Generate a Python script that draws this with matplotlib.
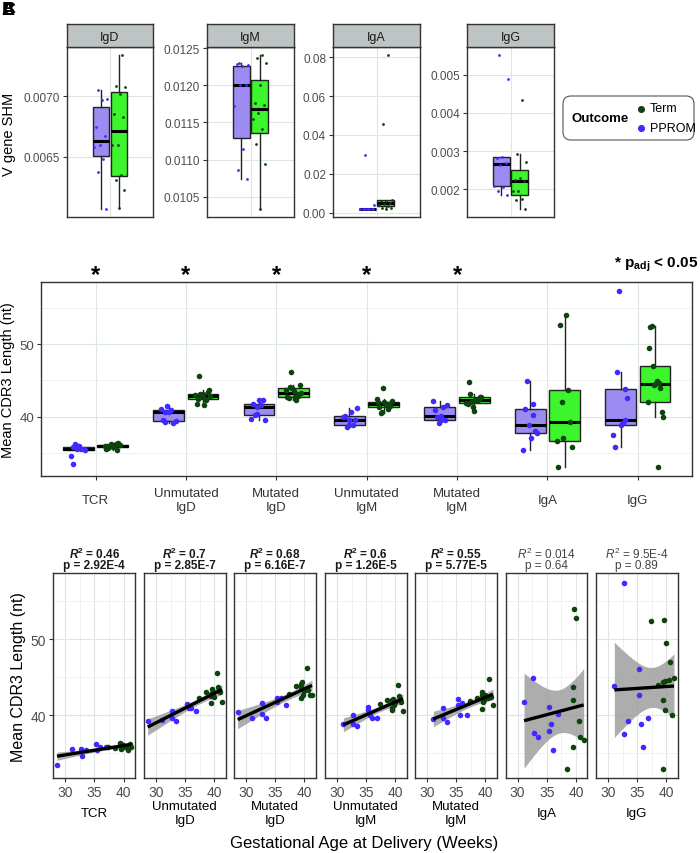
import numpy as np
import matplotlib
matplotlib.use("Agg")
import matplotlib.pyplot as plt
from matplotlib.patches import FancyBboxPatch
from matplotlib.transforms import blended_transform_factory
from matplotlib.ticker import FixedLocator, FormatStrFormatter

nan = np.nan

# ---------------- data ----------------
outcomes = ["Term", "PPROM"]

# Panel A: V gene SHM by isotype
shm_isotypes = ["IgD", "IgM", "IgA", "IgG"]
shm_pprom_igd = [0.00705, 0.00698, 0.006965, 0.00675, 0.00667, 0.00660, 0.00658, 0.00648, 0.00638, 0.00607]
shm_term_igd = [0.00734, 0.00708, 0.007077, 0.00702, 0.00685, 0.00683, 0.00660, 0.00660, 0.006355, 0.00631, 0.00623, 0.00608]
shm_pprom_igm = [0.01230, 0.012267, 0.012254, 0.01229, 0.012009, 0.01200, 0.011718, 0.01114, 0.010853, 0.010737]
shm_term_igm = [0.01241, 0.012366, 0.012299, 0.011999, 0.011754, 0.011732, 0.01162, 0.011544, 0.01141, 0.011215, 0.010942, 0.010331]
shm_pprom_iga = [0.0294, 0.0039, 0.0020, 0.0020, 0.0019, 0.0019, 0.0019, 0.0018, 0.0018, 0.0017]
shm_term_iga = [0.0813, 0.0455, 0.0066, 0.0062, 0.0058, 0.0050, 0.0044, 0.0040, 0.0035, 0.0026, 0.0021, 0.0018]
shm_pprom_igg = [0.005526, 0.004887, 0.002853, 0.00282, 0.002695, 0.00264, 0.002079, 0.00207, 0.001947, 0.001853]
shm_term_igg = [0.004326, 0.002913, 0.00272, 0.002282, 0.002229, 0.00221, 0.00195, 0.001947, 0.001747, 0.001729, 0.001474]
shm_yticks = [[0.0065, 0.0070], [0.0105, 0.0110, 0.0115, 0.0120, 0.0125],
              [0.00, 0.02, 0.04, 0.06, 0.08], [0.002, 0.003, 0.004, 0.005]]
shm_fmt = ["%.4f", "%.4f", "%.2f", "%.3f"]

# Panels B/C: mean CDR3 length
cdr3_categories = ["TCR", "Unmutated\nIgD", "Mutated\nIgD", "Unmutated\nIgM", "Mutated\nIgM", "IgA", "IgG"]
significant = [True, True, True, True, True, False, False]
pprom_age = [28.6, 31.1, 32.7, 32.8, 33.5, 35.3, 35.4, 35.7, 36.0, 36.9]
term_age = [37.4, 38.5, 39.4, 39.5, 39.5, 39.6, 39.7, 39.8, 40.0, 40.5, 40.7, 41.0, 41.3]

cdr3_pprom_tcr = [33.5, 35.55, 35.6, 34.6, 35.5, 36.2, 35.4, nan, 35.9, 35.8]
cdr3_pprom_uigd = [39.25, 39.4, 40.6, 39.6, 39.2, 41.5, nan, 41.0, 40.9, 40.6]
cdr3_pprom_migd = [40.4, 39.7, 41.6, 40.2, 39.6, 42.3, 41.8, nan, 42.3, 41.4]
cdr3_pprom_uigm = [nan, 38.85, 40.0, 38.9, 38.6, 41.15, 40.7, 40.1, 39.6, 39.6]
cdr3_pprom_migm = [nan, 39.5, 40.9, 39.6, 39.1, 42.2, 41.4, 40.0, 41.6, 40.1]
cdr3_pprom_iga = [nan, 41.7, 44.9, 37.7, 37.1, 41.1, 38.0, 38.9, 35.4, 40.2]
cdr3_pprom_igg = [nan, 43.8, 57.4, 37.5, 39.2, 46.1, 42.6, 38.9, 35.8, 39.6]

cdr3_term_tcr = [35.9, 35.7, 36.4, 36.0, 35.6, 36.3, 35.9, 36.1, 35.8, 36.0, 35.4, 36.2, 35.9]
cdr3_term_uigd = [42.25, 43.1, 42.8, 41.6, 42.5, 43.4, 42.9, 43.0, 42.4, 45.6, 43.7, 43.1, 41.7]
cdr3_term_migd = [42.8, 43.9, 43.7, 42.3, 44.1, 44.4, 43.5, 42.7, 43.2, 46.2, 43.3, 42.7, 42.6]
cdr3_term_uigm = [41.5, 42.0, 42.0, 41.0, 40.7, 42.1, 41.6, 41.4, 41.8, 44.0, 42.5, 41.7, 40.5]
cdr3_term_migm = [41.9, 42.25, 43.1, 42.7, 40.8, 41.7, 42.3, 42.0, 42.7, 42.3, 44.8, 42.4, 41.3]
cdr3_term_iga = [nan, 33.0, 43.7, 42.0, 35.8, 54.0, nan, nan, 52.7, 39.3, 37.1, nan, 36.7]
cdr3_term_igg = [52.4, 44.0, 44.4, 42.0, 33.0, 52.5, 40.7, 44.5, 49.5, 44.6, 47.0, 40.0, 44.9]

r2_labels = ["0.46", "0.7", "0.68", "0.6", "0.55", "0.014", "9.5E-4"]
p_labels = ["2.92E-4", "2.85E-7", "6.16E-7", "1.26E-5", "5.77E-5", "0.64", "0.89"]

# ---------------- style ----------------
plt.rcParams['font.family'] = ['Liberation Sans', 'DejaVu Sans']
plt.rcParams['mathtext.fontset'] = 'custom'
plt.rcParams['mathtext.rm'] = 'Liberation Sans'
plt.rcParams['mathtext.it'] = 'Liberation Sans:italic'
plt.rcParams['mathtext.bf'] = 'Liberation Sans:bold'
try:
    plt.rcParams['mathtext.bfit'] = 'Liberation Sans:italic:bold'
except KeyError:
    pass

PPROM_FILL = "#9C8CF2"
TERM_FILL = "#3CF52C"
PPROM_PT = "#3F2BFF"
TERM_PT = "#0E430E"
GRID = "#DDE5E5"
GRID_MINOR = "#EBF0F0"
BORDER = "#333333"
TICKTXT = "#4D4D4D"
EDGE = "#222222"

W, H = 700, 854
fig = plt.figure(figsize=(7, 8.54), dpi=100)


def rect(x0, y0, x1, y1):
    return [x0 / W, 1 - y1 / H, (x1 - x0) / W, (y1 - y0) / H]


def style_axes(ax, labelsize):
    for s in ax.spines.values():
        s.set_color(BORDER)
        s.set_linewidth(1.0)
    ax.tick_params(which='major', color=BORDER, labelcolor=TICKTXT, length=3,
                   width=0.8, labelsize=labelsize, pad=2)
    ax.tick_params(which='minor', length=0)
    ax.set_facecolor('white')
    ax.set_axisbelow(True)
    ax.grid(True, which='major', color=GRID, linewidth=0.8)
    ax.grid(True, which='minor', color=GRID_MINOR, linewidth=0.6)


def jitter(n, width, phase=0.31):
    k = np.arange(n)
    return width * (((k * 0.618034 + phase) % 1.0) - 0.5) * 2


def clean(v):
    v = np.asarray(v, float)
    return v[~np.isnan(v)]


def draw_box(ax, data, pos, width, fill):
    d = clean(data)
    ax.boxplot([d], positions=[pos], widths=width, patch_artist=True,
               showfliers=False, showcaps=False, whis=1.5, manage_ticks=False,
               boxprops=dict(facecolor=fill, edgecolor=EDGE, linewidth=1.0),
               whiskerprops=dict(color=EDGE, linewidth=1.0),
               medianprops=dict(color='black', linewidth=2.2, solid_capstyle='butt'),
               zorder=2)


def expand(vals, frac=0.05):
    lo, hi = np.nanmin(vals), np.nanmax(vals)
    r = hi - lo
    return lo - frac * r, hi + frac * r


# ---------------- Panel A ----------------
shm_pprom = [shm_pprom_igd, shm_pprom_igm, shm_pprom_iga, shm_pprom_igg]
shm_term = [shm_term_igd, shm_term_igm, shm_term_iga, shm_term_igg]
a_x = [(67, 153), (207, 294), (333, 420), (467, 554)]
for i, iso in enumerate(shm_isotypes):
    x0, x1 = a_x[i]
    ax = fig.add_axes(rect(x0, 48, x1, 218))
    style_axes(ax, 8.5)
    draw_box(ax, shm_pprom[i], -0.125, 0.235, PPROM_FILL)
    draw_box(ax, shm_term[i], 0.125, 0.235, TERM_FILL)
    pp = clean(shm_pprom[i])
    tt = clean(shm_term[i])
    ax.scatter(-0.125 + jitter(len(pp), 0.1), pp, s=4, color=PPROM_PT, zorder=3, linewidths=0)
    ax.scatter(0.125 + jitter(len(tt), 0.1, 0.7), tt, s=4, color=TERM_PT, zorder=3, linewidths=0)
    ax.set_xlim(-0.6, 0.6)
    ax.set_ylim(*expand(np.concatenate([pp, tt])))
    ax.xaxis.set_major_locator(FixedLocator([0]))
    ax.tick_params(axis='x', length=0, labelbottom=False)
    yt = shm_yticks[i]
    ax.yaxis.set_major_locator(FixedLocator(yt))
    step = yt[1] - yt[0]
    ax.yaxis.set_minor_locator(FixedLocator(np.arange(yt[0] - 1.5 * step, yt[-1] + 2 * step, step) + step / 2))
    ax.yaxis.set_major_formatter(FormatStrFormatter(shm_fmt[i]))
    # strip
    sa = fig.add_axes(rect(x0, 25, x1, 48))
    sa.set_facecolor("#BEC3C3")
    sa.set_xticks([]); sa.set_yticks([])
    for s in sa.spines.values():
        s.set_color(BORDER); s.set_linewidth(1.0)
    sa.text(0.5, 0.45, iso, ha='center', va='center', fontsize=9, color='#1A1A1A', transform=sa.transAxes)

fig.text(9 / W, 1 - 134 / H, "V gene SHM", rotation=90, ha='center', va='center', fontsize=10.5)

# legend
leg = FancyBboxPatch((563 / W, 1 - 141 / H), 131 / W, 44 / H,
                     boxstyle="round,pad=0,rounding_size=%f" % (8 / W),
                     mutation_aspect=W / H,
                     transform=fig.transFigure, facecolor='white', edgecolor='#555555',
                     linewidth=0.8, zorder=-1)
fig.patches.append(leg)
fig.text(572 / W, 1 - 119 / H, "Outcome", fontweight='bold', fontsize=9.5, ha='left', va='center')
leg_ax = fig.add_axes(rect(635, 100, 694, 138))
leg_ax.set_zorder(5)
leg_ax.set_xlim(0, 59); leg_ax.set_ylim(138, 100); leg_ax.axis('off')
for lab, col, yy in [(outcomes[0], TERM_PT, 109.5), (outcomes[1], PPROM_PT, 128.5)]:
    leg_ax.scatter([6], [yy], s=26, color=col, linewidths=0)
    leg_ax.text(15, yy, lab, ha='left', va='center', fontsize=9)

# ---------------- Panel B ----------------
cdr3_pprom = [cdr3_pprom_tcr, cdr3_pprom_uigd, cdr3_pprom_migd, cdr3_pprom_uigm, cdr3_pprom_migm, cdr3_pprom_iga, cdr3_pprom_igg]
cdr3_term = [cdr3_term_tcr, cdr3_term_uigd, cdr3_term_migd, cdr3_term_uigm, cdr3_term_migm, cdr3_term_iga, cdr3_term_igg]
all_cdr3 = np.concatenate([clean(v) for v in cdr3_pprom + cdr3_term])
ylims = expand(all_cdr3)

axb = fig.add_axes(rect(41.3, 282.7, 692, 477.3))
style_axes(axb, 9.5)
for i in range(len(cdr3_categories)):
    pos = i + 1
    draw_box(axb, cdr3_pprom[i], pos - 0.19, 0.34, PPROM_FILL)
    draw_box(axb, cdr3_term[i], pos + 0.19, 0.34, TERM_FILL)
    pp = clean(cdr3_pprom[i]); tt = clean(cdr3_term[i])
    axb.scatter(pos - 0.19 + jitter(len(pp), 0.09, 0.2 + 0.1 * i), pp, s=16, color=PPROM_PT, zorder=3, linewidths=0)
    axb.scatter(pos + 0.19 + jitter(len(tt), 0.09, 0.6 + 0.1 * i), tt, s=16, color=TERM_PT, zorder=3, linewidths=0)
axb.set_xlim(0.4, len(cdr3_categories) + 0.6)
axb.set_ylim(*ylims)
axb.set_xticks(range(1, len(cdr3_categories) + 1))
axb.set_xticklabels(cdr3_categories, fontsize=9.5, color='#333333', linespacing=1.15, va='center')
axb.tick_params(axis='x', pad=14)
axb.yaxis.set_major_locator(FixedLocator([40, 50]))
axb.yaxis.set_minor_locator(FixedLocator([35, 45, 55]))
axb.set_ylabel("Mean CDR3 Length (nt)", fontsize=10.5)
axb.yaxis.set_label_coords((15 - 41.3) / 650.7, 0.5)
tr = blended_transform_factory(axb.transData, axb.transAxes)
for i, sig in enumerate(significant):
    if sig:
        axb.text(i + 1, 1.035, "*", transform=tr, ha='center', va='center', fontsize=17, fontweight='bold')
fig.text(698 / W, 1 - 265 / H, r"* $\mathbf{p_{adj}}$ < 0.05", ha='right', va='center', fontsize=11, fontweight='bold')

# ---------------- Panel C ----------------
c_left = [53.3, 144, 234, 325, 415, 505.7, 596]
all_age = np.array(pprom_age + term_age)
xlims = expand(all_age)


def t975(df):
    z = 1.959964
    return z + (z ** 3 + z) / (4 * df) + (5 * z ** 5 + 16 * z ** 3 + 3 * z) / (96 * df ** 2) \
        + (3 * z ** 7 + 19 * z ** 5 + 17 * z ** 3 - 15 * z) / (384 * df ** 3)


for i, cat in enumerate(cdr3_categories):
    ax = fig.add_axes(rect(c_left[i], 574.3, c_left[i] + 81.7, 779))
    style_axes(ax, 10)
    pa = np.array(pprom_age); pv = np.array(cdr3_pprom[i], float)
    ta = np.array(term_age); tv = np.array(cdr3_term[i], float)
    x = np.concatenate([pa, ta]); y = np.concatenate([pv, tv])
    m = ~np.isnan(y)
    x, y = x[m], y[m]
    n = len(x)
    b1, b0 = np.polyfit(x, y, 1)
    xs = np.linspace(x.min(), x.max(), 100)
    yhat = b0 + b1 * xs
    resid = y - (b0 + b1 * x)
    s = np.sqrt(np.sum(resid ** 2) / (n - 2))
    sxx = np.sum((x - x.mean()) ** 2)
    se = s * np.sqrt(1 / n + (xs - x.mean()) ** 2 / sxx)
    ci = t975(n - 2) * se
    ax.fill_between(xs, yhat - ci, yhat + ci, color='#999999', alpha=0.8, linewidth=0, zorder=2)
    mp = ~np.isnan(pv); mt = ~np.isnan(tv)
    ax.scatter(pa[mp], pv[mp], s=16, color=PPROM_PT, zorder=3, linewidths=0)
    ax.scatter(ta[mt], tv[mt], s=16, color=TERM_PT, zorder=3, linewidths=0)
    ax.plot(xs, yhat, color='black', linewidth=2.4, zorder=4, solid_capstyle='butt')
    ax.set_xlim(*xlims)
    ax.set_ylim(*ylims)
    ax.xaxis.set_major_locator(FixedLocator([30, 35, 40]))
    ax.xaxis.set_minor_locator(FixedLocator([27.5, 32.5, 37.5, 42.5]))
    ax.yaxis.set_major_locator(FixedLocator([40, 50]))
    ax.yaxis.set_minor_locator(FixedLocator([35, 45, 55]))
    if i > 0:
        ax.tick_params(axis='y', labelleft=False, length=0)
    else:
        ax.set_ylabel("Mean CDR3 Length (nt)", fontsize=11.5)
        ax.yaxis.set_label_coords((26 - 53.3) / 81.7, 0.5)
    ax.set_xlabel(cat, fontsize=9.5, linespacing=1.15)
    ax.xaxis.label.set_va('center')
    ax.xaxis.set_label_coords(0.5, -(814 - 779) / 204.7)
    bold = significant[i]
    cx = (c_left[i] + 40.85) / W
    if bold:
        l1 = r"$\mathbfit{R}^{\mathbf{2}}$ = " + r2_labels[i]
    else:
        l1 = r"$\mathit{R}^{2}$ = " + r2_labels[i]
    fig.text(cx, 1 - 554 / H, l1, ha='center', va='center', fontsize=8.5,
             fontweight='bold' if bold else 'normal', color='#1A1A1A' if bold else '#444444')
    fig.text(cx, 1 - 566 / H, "p = " + p_labels[i], ha='center', va='center', fontsize=8.5,
             fontweight='bold' if bold else 'normal', color='#1A1A1A' if bold else '#444444')

fig.text(364 / W, 1 - 844 / H, "Gestational Age at Delivery (Weeks)", ha='center', va='center', fontsize=12)

# panel letters (overlapping in the reference)
for letter in ["A", "B", "C"]:
    fig.text(2 / W, 1 - 2 / H, letter, ha='left', va='top', fontsize=13, fontweight='bold')

fig.savefig("out.png", dpi=100)
